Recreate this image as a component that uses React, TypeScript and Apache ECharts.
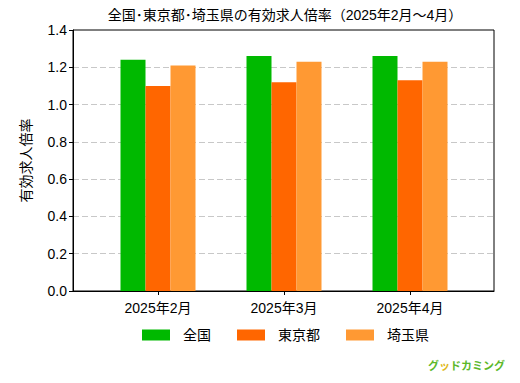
import React, { useEffect, useRef } from "react";
import * as echarts from "echarts";

const categories = ["2025年2月", "2025年3月", "2025年4月"];
const zenkoku = [1.24, 1.26, 1.26];
const tokyo = [1.10, 1.12, 1.13];
const saitama = [1.21, 1.23, 1.23];

const FONT = "'Liberation Sans', 'Noto Sans CJK JP', sans-serif";

export default function App() {
  const ref = useRef<HTMLDivElement>(null);
  useEffect(() => {
    if (!ref.current) return;
    const chart = echarts.init(ref.current, undefined, { renderer: "svg" });
    chart.setOption({
      animation: false,
      backgroundColor: "#fff",
      textStyle: { fontFamily: FONT },
      title: {
        text: "全国･東京都･埼玉県の有効求人倍率（2025年2月～4月）",
        left: 285,
        textAlign: "center",
        top: 8,
        padding: 0,
        textStyle: { fontSize: 14, fontWeight: "normal", color: "#000", fontFamily: FONT },
      },
      grid: [
        { left: 73, right: 26, top: 30, bottom: 92, show: true, borderColor: "#000", borderWidth: 1, backgroundColor: "transparent" },
        { left: 95, right: 47, top: 30, bottom: 92 },
      ],
      xAxis: [
        {
          type: "value", gridIndex: 0, min: 0, max: 1,
          axisLine: { show: true, lineStyle: { color: "#000", width: 1 } },
          axisTick: { show: false }, axisLabel: { show: false }, splitLine: { show: false },
        },
        {
          type: "category", gridIndex: 1, data: categories, boundaryGap: true,
          axisLine: { show: false },
          axisTick: { show: true, alignWithLabel: true, length: 4, lineStyle: { color: "#000" } },
          axisLabel: { color: "#000", fontSize: 14, margin: 10, fontFamily: FONT },
        },
      ],
      yAxis: [
        {
          type: "value", gridIndex: 0, min: 0, max: 1.4, interval: 0.2,
          name: "有効求人倍率", nameLocation: "middle", nameGap: 40, nameRotate: 90,
          nameTextStyle: { fontSize: 14, color: "#000", fontFamily: FONT },
          axisLine: { show: true, lineStyle: { color: "#000", width: 1 } },
          axisTick: { show: true, length: 4, lineStyle: { color: "#000" } },
          axisLabel: {
            color: "#000", fontSize: 14, margin: 6, fontFamily: FONT,
            formatter: (v: number) => v.toFixed(1),
          },
          splitLine: {
            show: true, showMinLine: false, showMaxLine: false,
            lineStyle: { color: "#c8c8c8", type: [6, 3], width: 1 },
          },
        },
        { type: "value", gridIndex: 1, min: 0, max: 1.4, show: false, splitLine: { show: false } },
      ],
      legend: {
        top: 328,
        left: 142,
        padding: 0,
        itemWidth: 28,
        itemHeight: 11,
        itemGap: 26,
        icon: "rect",
        textStyle: { fontSize: 14, color: "#000", padding: [0, 0, 0, 8], fontFamily: FONT },
        data: ["全国", "東京都", "埼玉県"],
      },
      graphic: [
        {
          type: "text",
          right: 15,
          bottom: 12,
          style: {
            text: "{g|グ}{y|ッ}{g|ドカミング}",
            rich: {
              g: { fill: "#5cb82a", fontSize: 11, fontWeight: "bold", fontFamily: FONT },
              y: { fill: "#e0b820", fontSize: 11, fontWeight: "bold", fontFamily: FONT },
            },
          },
        },
      ],
      series: [
        { name: "全国", type: "bar", xAxisIndex: 1, yAxisIndex: 1, data: zenkoku, barWidth: 25, barGap: "0%", itemStyle: { color: "#00b900" } },
        { name: "東京都", type: "bar", xAxisIndex: 1, yAxisIndex: 1, data: tokyo, barWidth: 25, barGap: "0%", itemStyle: { color: "#ff6600" } },
        { name: "埼玉県", type: "bar", xAxisIndex: 1, yAxisIndex: 1, data: saitama, barWidth: 25, barGap: "0%", itemStyle: { color: "#ff9933" } },
      ],
    });
    return () => chart.dispose();
  }, []);
  return <div ref={ref} style={{ width: 520, height: 383, position: "fixed", left: 0, top: 0 }} />;
}
